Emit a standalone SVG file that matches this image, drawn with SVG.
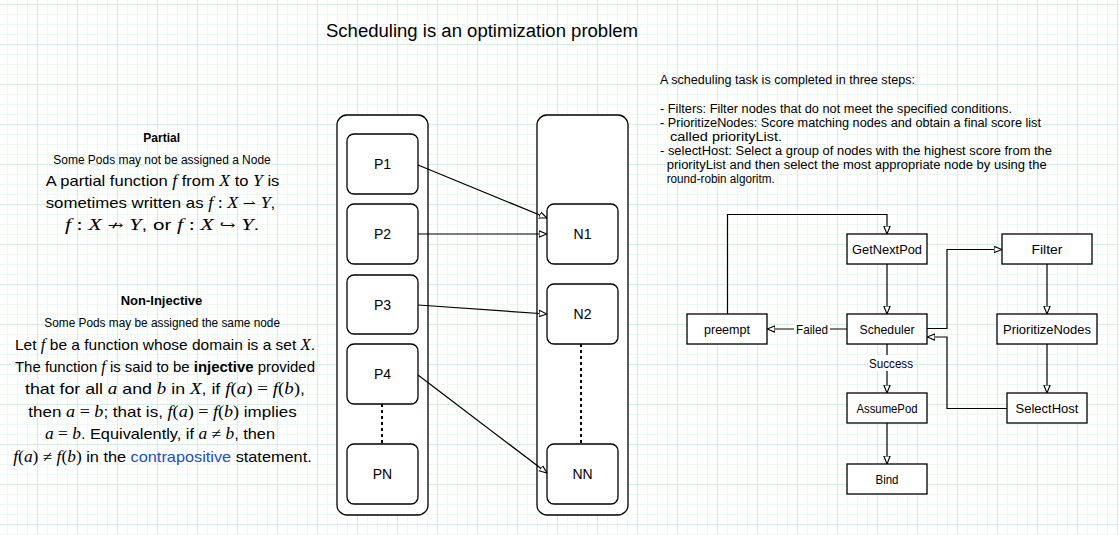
<svg xmlns="http://www.w3.org/2000/svg" width="1119" height="535" viewBox="0 0 1119 535">
<style>
.hand{font-family:"Liberation Sans","DejaVu Sans",sans-serif;fill:#000;}
.mi{font-family:"Liberation Serif","DejaVu Serif",serif;font-style:italic;font-size:16px;}
.mo{font-family:"Liberation Serif","DejaVu Serif",serif;font-size:16px;}
.sym{font-family:"DejaVu Serif","DejaVu Sans",serif;font-size:14px;}
.box{fill:#fff;stroke:#000;stroke-width:1.3;}
.cont{fill:#fff;stroke:#000;stroke-width:1.3;}
.lbl{font-family:"Liberation Sans",Arial,sans-serif;font-size:14px;fill:#000;}
.fl{font-family:"Liberation Sans","DejaVu Sans",sans-serif;font-size:13px;fill:#000;}
.edge{fill:none;stroke:#000;stroke-width:1.2;marker-end:url(#arr);}
.dot{fill:none;stroke:#000;stroke-width:2;stroke-dasharray:3 3;}
</style>
<defs>
<pattern id="gMinor" width="10" height="10" patternUnits="userSpaceOnUse" x="7" y="4">
<path d="M0 0.5H10M0.5 0V10" stroke="#edf8f1" stroke-width="1" fill="none"/>
</pattern>
<pattern id="gMajor" width="40" height="40" patternUnits="userSpaceOnUse" x="37" y="4">
<path d="M0 0.5H40M0.5 0V40" stroke="#d4eedf" stroke-width="1" fill="none"/>
</pattern>
<marker id="arr" viewBox="0 0 10 10" refX="10" refY="5" markerWidth="8" markerHeight="8" markerUnits="userSpaceOnUse" orient="auto">
<path d="M0,1 L10,5 L0,9 Z" fill="#fff" stroke="#000" stroke-width="1.4"/>
</marker>
</defs>
<rect width="1119" height="535" fill="#fff"/>
<rect width="1119" height="535" fill="url(#gMinor)"/>
<rect width="1119" height="535" fill="url(#gMajor)"/>

<g id="title">
<text class="hand" x="326" y="36.5" font-size="18" textLength="312" lengthAdjust="spacingAndGlyphs">Scheduling is an optimization problem</text>
</g>

<g id="partial-text" class="hand">
<text x="143.3" y="141.5" font-size="12" font-weight="bold" textLength="36.7" lengthAdjust="spacingAndGlyphs">Partial</text>
<text x="53.3" y="163.5" font-size="12" textLength="217.4" lengthAdjust="spacingAndGlyphs">Some Pods may not be assigned a Node</text>
<text x="45.7" y="186" font-size="15" textLength="233.6" lengthAdjust="spacingAndGlyphs">A partial function <tspan class="mi">f</tspan> from <tspan class="mi">X</tspan> to <tspan class="mi">Y</tspan> is</text>
<text x="45.7" y="208" font-size="15" textLength="229.6" lengthAdjust="spacingAndGlyphs">sometimes written as <tspan class="mi">f</tspan><tspan class="mo"> : </tspan><tspan class="mi">X</tspan> <tspan class="sym">⇀</tspan> <tspan class="mi">Y</tspan>,</text>
<text x="65" y="230" font-size="15" textLength="194.3" lengthAdjust="spacingAndGlyphs"><tspan class="mi">f</tspan><tspan class="mo"> : </tspan><tspan class="mi">X</tspan> <tspan class="sym">↛</tspan> <tspan class="mi">Y</tspan>, or <tspan class="mi">f</tspan><tspan class="mo"> : </tspan><tspan class="mi">X</tspan> <tspan class="sym">↪</tspan> <tspan class="mi">Y</tspan>.</text>
</g>

<g id="noninjective-text" class="hand">
<text x="120.7" y="305" font-size="12" font-weight="bold" textLength="81.6" lengthAdjust="spacingAndGlyphs">Non-Injective</text>
<text x="44.3" y="327" font-size="12" textLength="235.7" lengthAdjust="spacingAndGlyphs">Some Pods may be assigned the same node</text>
<text x="15" y="349.5" font-size="15" textLength="300" lengthAdjust="spacingAndGlyphs">Let <tspan class="mi">f</tspan> be a function whose domain is a set <tspan class="mi">X</tspan>.</text>
<text x="15" y="371.5" font-size="15" textLength="300" lengthAdjust="spacingAndGlyphs">The function <tspan class="mi">f</tspan> is said to be <tspan font-weight="bold">injective</tspan> provided</text>
<text x="25" y="394" font-size="15" textLength="280" lengthAdjust="spacingAndGlyphs">that for all <tspan class="mi">a</tspan> and <tspan class="mi">b</tspan> in <tspan class="mi">X</tspan>, if <tspan class="mi">f</tspan><tspan class="mo">(</tspan><tspan class="mi">a</tspan><tspan class="mo">) = </tspan><tspan class="mi">f</tspan><tspan class="mo">(</tspan><tspan class="mi">b</tspan><tspan class="mo">)</tspan>,</text>
<text x="28.3" y="416.5" font-size="15" textLength="268.4" lengthAdjust="spacingAndGlyphs">then <tspan class="mi">a</tspan><tspan class="mo"> = </tspan><tspan class="mi">b</tspan>; that is, <tspan class="mi">f</tspan><tspan class="mo">(</tspan><tspan class="mi">a</tspan><tspan class="mo">) = </tspan><tspan class="mi">f</tspan><tspan class="mo">(</tspan><tspan class="mi">b</tspan><tspan class="mo">)</tspan> implies</text>
<text x="45" y="439" font-size="15" textLength="230" lengthAdjust="spacingAndGlyphs"><tspan class="mi">a</tspan><tspan class="mo"> = </tspan><tspan class="mi">b</tspan>. Equivalently, if <tspan class="mi">a</tspan><tspan class="mo"> ≠ </tspan><tspan class="mi">b</tspan>, then</text>
<text x="13.3" y="461.5" font-size="15" textLength="298.4" lengthAdjust="spacingAndGlyphs"><tspan class="mi">f</tspan><tspan class="mo">(</tspan><tspan class="mi">a</tspan><tspan class="mo">) ≠ </tspan><tspan class="mi">f</tspan><tspan class="mo">(</tspan><tspan class="mi">b</tspan><tspan class="mo">)</tspan> in the <tspan fill="#1a4fc4">contrapositive</tspan> statement.</text>
</g>

<g id="steps-text" class="hand" font-size="12">
<text x="660" y="83.5" textLength="255" lengthAdjust="spacingAndGlyphs">A scheduling task  is completed in three steps:</text>
<text x="660" y="112.5" textLength="352" lengthAdjust="spacingAndGlyphs">- Filters: Filter nodes that do not meet the specified conditions.</text>
<text x="660" y="126.5" textLength="381" lengthAdjust="spacingAndGlyphs">- PrioritizeNodes: Score matching nodes and obtain a final score list</text>
<text x="670" y="140.5" textLength="112" lengthAdjust="spacingAndGlyphs">called priorityList.</text>
<text x="660" y="155" textLength="392" lengthAdjust="spacingAndGlyphs">- selectHost: Select a group of nodes with the highest score from the</text>
<text x="666.7" y="169" textLength="380" lengthAdjust="spacingAndGlyphs">priorityList and then select the most appropriate node by using the</text>
<text x="666.7" y="183" textLength="108" lengthAdjust="spacingAndGlyphs">round-robin algoritm.</text>
</g>

<g id="pods">
<rect class="cont" x="337" y="115" width="91" height="400" rx="10"/>
</g>
<g id="nodes">
<rect class="cont" x="537" y="115" width="91" height="400" rx="10"/>
</g>
<g id="P1"><rect class="box" x="347" y="134" width="71" height="60" rx="7"/><text class="lbl" x="382.5" y="169" text-anchor="middle">P1</text></g>
<g id="P2"><rect class="box" x="347" y="204" width="71" height="60" rx="7"/><text class="lbl" x="382.5" y="239" text-anchor="middle">P2</text></g>
<g id="P3"><rect class="box" x="347" y="275" width="71" height="59" rx="7"/><text class="lbl" x="382.5" y="309.5" text-anchor="middle">P3</text></g>
<g id="P4"><rect class="box" x="347" y="344" width="71" height="60" rx="7"/><text class="lbl" x="382.5" y="379" text-anchor="middle">P4</text></g>
<g id="PN"><rect class="box" x="347" y="444" width="71" height="60" rx="7"/><text class="lbl" x="382.5" y="479" text-anchor="middle">PN</text></g>
<g id="N1"><rect class="box" x="547" y="204" width="71" height="60" rx="7"/><text class="lbl" x="582.5" y="239" text-anchor="middle">N1</text></g>
<g id="N2"><rect class="box" x="547" y="284" width="71" height="60" rx="7"/><text class="lbl" x="582.5" y="319" text-anchor="middle">N2</text></g>
<g id="NN"><rect class="box" x="547" y="444" width="71" height="60" rx="7"/><text class="lbl" x="582.5" y="479" text-anchor="middle">NN</text></g>

<g id="GetNextPod"><rect class="box" x="847" y="234" width="80" height="30"/><text class="fl" x="887" y="253.5" text-anchor="middle" textLength="70" lengthAdjust="spacingAndGlyphs">GetNextPod</text></g>
<g id="Filter"><rect class="box" x="1002" y="234" width="90" height="30"/><text class="fl" x="1047" y="253.5" text-anchor="middle" textLength="31" lengthAdjust="spacingAndGlyphs">Filter</text></g>
<g id="preempt"><rect class="box" x="687" y="314" width="80" height="30"/><text class="fl" x="727" y="333.5" text-anchor="middle" textLength="46" lengthAdjust="spacingAndGlyphs">preempt</text></g>
<g id="Scheduler"><rect class="box" x="847" y="314" width="80" height="30"/><text class="fl" x="887" y="333.5" text-anchor="middle" textLength="55" lengthAdjust="spacingAndGlyphs">Scheduler</text></g>
<g id="PrioritizeNodes"><rect class="box" x="997" y="314" width="100" height="30"/><text class="fl" x="1047" y="333.5" text-anchor="middle" textLength="88" lengthAdjust="spacingAndGlyphs">PrioritizeNodes</text></g>
<g id="AssumePod"><rect class="box" x="847" y="393" width="80" height="30"/><text class="fl" x="887" y="412.5" text-anchor="middle" textLength="61" lengthAdjust="spacingAndGlyphs">AssumePod</text></g>
<g id="SelectHost"><rect class="box" x="1007" y="393" width="80" height="30"/><text class="fl" x="1047" y="412.5" text-anchor="middle" textLength="63" lengthAdjust="spacingAndGlyphs">SelectHost</text></g>
<g id="Bind"><rect class="box" x="847" y="464" width="80" height="30"/><text class="fl" x="887" y="483.5" text-anchor="middle" textLength="23" lengthAdjust="spacingAndGlyphs">Bind</text></g>

<g id="connectors">
<path class="edge" d="M418,165 L547,218"/>
<path class="edge" d="M418,234 L547,234"/>
<path class="edge" d="M418,305 L547,314"/>
<path class="edge" d="M418,375 L547,473"/>
<path class="dot" d="M382,404 V444"/>
<path class="dot" d="M581,344 V444"/>

<path class="edge" d="M727.5,314 V214.5 H887 V234"/>
<path class="edge" d="M887,264 V314"/>
<path class="edge" d="M847,329 H767"/>
<path class="edge" d="M887,344 V393"/>
<path class="edge" d="M887,423 V464"/>
<path class="edge" d="M927,328.5 H947 V249.5 H1002"/>
<path class="edge" d="M1047,264 V314"/>
<path class="edge" d="M1047,344 V393"/>
<path class="edge" d="M1007,408.5 H947 V337 H927"/>
<rect x="794" y="321" width="36" height="16" fill="#fff"/>
<text class="fl" x="812" y="333.5" text-anchor="middle" textLength="32" lengthAdjust="spacingAndGlyphs">Failed</text>
<rect x="868" y="355" width="46" height="16" fill="#fff"/>
<text class="fl" x="891" y="367.5" text-anchor="middle" textLength="44" lengthAdjust="spacingAndGlyphs">Success</text>
</g>
</svg>
